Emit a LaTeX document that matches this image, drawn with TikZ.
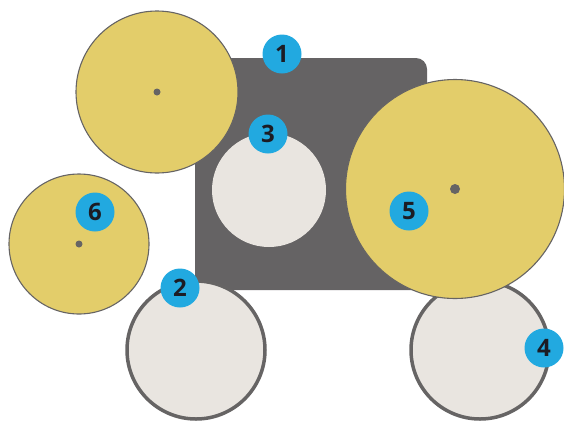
\documentclass[tikz,border=0pt]{standalone}
\usepackage{fontspec}
\setmainfont{Open Sans}
\usepackage{xcolor}
\usetikzlibrary{positioning}

\definecolor{plate}{HTML}{656364}
\definecolor{gear}{HTML}{E3CD6A}
\definecolor{hole}{HTML}{E9E5E0}
\definecolor{rim}{HTML}{666464}
\definecolor{badgeblue}{HTML}{22A9E0}
\definecolor{ink}{HTML}{1C1C24}

\tikzset{
  yellowgear/.style={fill=gear, draw=rim, line width=1.1pt},
  wheel/.style={fill=hole, draw=rim, line width=3.5pt},
  axle/.style={fill=rim},
  badge/.style={circle, fill=badgeblue, minimum size=39pt, inner sep=0pt,
                text=ink, font=\fontsize{24}{24}\selectfont\bfseries}
}

\begin{document}
\begin{tikzpicture}[x=1pt, y=-1pt]
            \useasboundingbox (0,0) rectangle (564,421);

            % back plate
            \fill[plate, rounded corners=11pt] (195,58) rectangle (427,290);

            \draw[yellowgear] (157,92) circle (81);
            \fill[axle] (157,92) circle (3.5);

            \fill[hole] (269,190) circle (57);

            \draw[wheel] (196,350) circle (69);
            \draw[wheel] (480,350) circle (69);

            \draw[yellowgear] (455,189) circle (109.5);
            \fill[axle] (455,189) circle (5);

            \draw[yellowgear] (79,244) circle (70);
            \fill[axle] (79,244) circle (3.5);

            % numbered markers
            \node[badge] (b1) at (282,54) {1};
            \node[badge] (b2) at (180,288) {2};
            \node[badge] (b3) at (268,134) {3};
            \node[badge] (b4) at (544,348) {4};
            \node[badge] (b5) at (409,211) {5};
            \node[badge] (b6) at (95,212) {6};
\end{tikzpicture}
\end{document}
